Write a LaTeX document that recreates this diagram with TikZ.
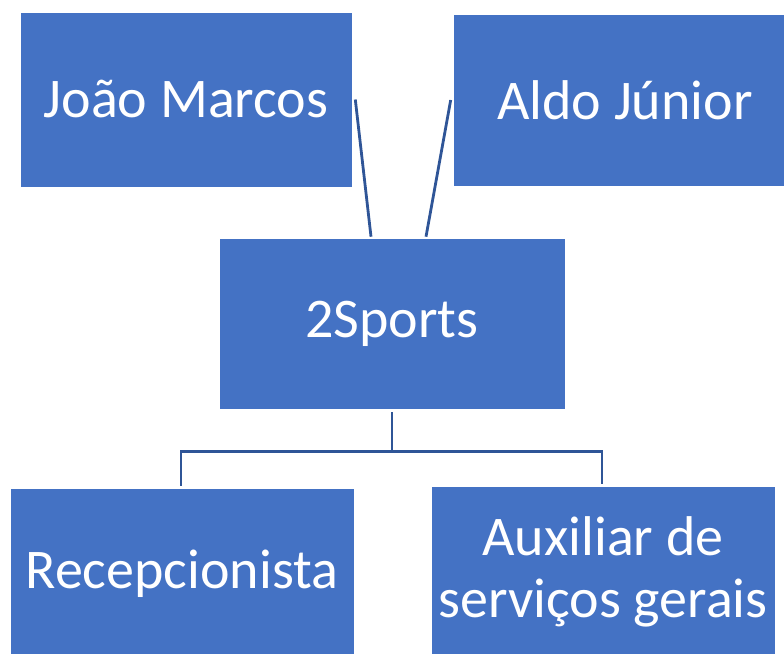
\documentclass[tikz,border=0pt]{standalone}
\usepackage{fontspec}
\setmainfont{Carlito}
\usetikzlibrary{calc}
\definecolor{boxblue}{HTML}{4472C4}
\definecolor{linkblue}{HTML}{2F5597}
\begin{document}
\begin{tikzpicture}[x=1pt,y=-1pt,
  orgbox/.style={rectangle, fill=boxblue, draw=white, line width=0.6pt, text=white, inner sep=0pt,
    font=\fontsize{56}{62}\selectfont, align=center},
  link/.style={draw=linkblue, line width=2.8pt}]
\useasboundingbox (0,0) rectangle (784,653);
\begin{scope}
\clip (0,0) rectangle (784,653);
\node[orgbox, minimum width=332pt, minimum height=175pt] (jm) at (186,99.5) {João Marcos};
\node[orgbox, minimum width=344pt, minimum height=172pt] (aj) at (625,100) {Aldo Júnior};
\node[orgbox, minimum width=346pt, minimum height=171pt] (sp) at (392,323.5) {2Sports};
\node[orgbox, minimum width=344pt, minimum height=171pt] (rc) at (182,573.5) {Recepcionista};
\node[orgbox, minimum width=344pt, minimum height=171pt] (ax) at (603,571.5) {Auxiliar de\\serviços gerais};
\end{scope}
\draw[link] ($(jm.east)+(3,0)$) -- ($(sp.north)+(-21,-1)$);
\draw[link] ($(aj.west)+(-2,0)$) -- ($(sp.north)+(34,-1)$);
\draw[link] ($(sp.south)+(0,3)$) -- ++(0,39) coordinate (mid);
\draw[link] ($(rc.north)+(-1,-2)$) |- (mid) -| ($(ax.north)+(-1,-2)$);
\end{tikzpicture}
\end{document}
